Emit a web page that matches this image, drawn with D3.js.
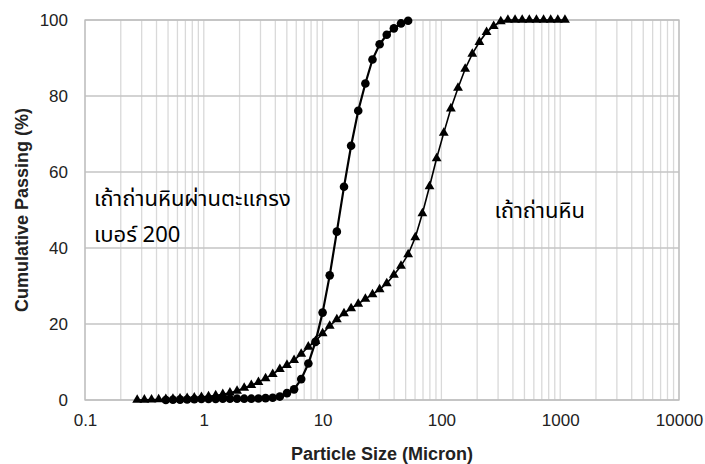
<!DOCTYPE html>
<html>
<head>
<meta charset="utf-8">
<title>Particle size distribution</title>
<script src="https://d3js.org/d3.v7.min.js"></script>
<style>
  body { margin: 0; background: #fff; }
  .tick text { font-family: "Liberation Sans", Arial, sans-serif; font-size: 17px; fill: #222; }
  .title { font-family: "Liberation Sans", Arial, sans-serif; font-size: 18px; font-weight: bold; fill: #222; }
  .note { font-family: "Noto Sans Thai", "Tahoma", "Loma", "Garuda", sans-serif; font-size: 22px; fill: #000; }
</style>
</head>
<body>
<svg width="705" height="464"></svg>
<script>
// particle sizes (micron), shared by both series
var sizes = [0.275, 0.316, 0.363, 0.417, 0.479, 0.550, 0.631, 0.724, 0.832, 0.955,
  1.096, 1.259, 1.445, 1.660, 1.905, 2.188, 2.512, 2.884, 3.311, 3.802,
  4.365, 5.012, 5.754, 6.607, 7.586, 8.710, 10.00, 11.48, 13.18, 15.14,
  17.38, 19.95, 22.91, 26.30, 30.20, 34.67, 39.81, 45.71, 52.48, 60.26,
  69.18, 79.43, 91.20, 104.7, 120.2, 138.0, 158.5, 182.0, 208.9, 239.9,
  275.4, 316.2, 363.1, 416.9, 478.6, 549.5, 631.0, 724.4, 831.8, 955.0, 1096.5];

// fly ash passing sieve no.200 (circles), starts at 0.479 micron, ends at 52.48
var fineStart = 4;
var fineVals = [0.0, 0.05, 0.1, 0.15, 0.2, 0.25, 0.3, 0.3, 0.35, 0.35,
  0.35, 0.35, 0.35, 0.4, 0.5, 0.6, 0.9, 1.8, 2.8, 5.5,
  9.6, 15.3, 23.0, 32.8, 44.3, 56.1, 66.9, 76.1, 83.3, 89.6,
  93.6, 96.1, 97.8, 99.1, 99.8];

// fly ash (triangles), full size range
var ashVals = [0.0, 0.05, 0.1, 0.15, 0.2, 0.3, 0.35, 0.45, 0.6, 0.75,
  0.95, 1.2, 1.5, 1.9, 2.4, 3.2, 3.9, 4.7, 5.7, 6.8,
  8.1, 9.2, 10.5, 12.1, 14.0, 15.5, 17.5, 19.5, 21.2, 22.8,
  24.1, 25.3, 26.6, 27.8, 29.1, 30.7, 32.9, 35.3, 38.3, 42.8,
  49.1, 56.2, 63.6, 70.3, 76.7, 82.1, 87.1, 91.1, 94.2, 96.8,
  98.4, 99.6, 100, 100, 100, 100, 100, 100, 100, 100, 100];

var xTicks = [0.1, 1, 10, 100, 1000, 10000];
var yTicks = [0, 20, 40, 60, 80, 100];
var xLabel = "Particle Size (Micron)";
var yLabel = "Cumulative Passing (%)";
var fineNote = ["เถ้าถ่านหินผ่านตะแกรง", "เบอร์ 200"];
var ashNote = "เถ้าถ่านหิน";

var svg = d3.select("svg");
var margin = {left: 85, right: 26, top: 20, bottom: 64};
var width = 705 - margin.left - margin.right,
    height = 464 - margin.top - margin.bottom;

var x = d3.scaleLog().domain([0.1, 10000]).range([0, width]);
var y = d3.scaleLinear().domain([0, 100]).range([height, 0]);

var g = svg.append("g").attr("transform", "translate(" + margin.left + "," + margin.top + ")");

// minor + major vertical grid
var vlines = [];
for (var dec = 0.1; dec < 10000; dec *= 10) {
  for (var k = 1; k < 10; k++) vlines.push(+(dec * k).toPrecision(3));
}
vlines.push(10000);
g.append("g").selectAll("line").data(vlines).enter().append("line")
  .attr("x1", function(d) { return x(d); }).attr("x2", function(d) { return x(d); })
  .attr("y1", 0).attr("y2", height)
  .attr("stroke", "#d9d9d9").attr("stroke-width", 1.3);

g.append("g").selectAll("line").data(yTicks).enter().append("line")
  .attr("x1", 0).attr("x2", width)
  .attr("y1", function(d) { return y(d); }).attr("y2", function(d) { return y(d); })
  .attr("stroke", "#c4c4c4").attr("stroke-width", 1.3);

g.append("rect").attr("width", width).attr("height", height)
  .attr("fill", "none").attr("stroke", "#bdbdbd").attr("stroke-width", 1.3);

// axes
var xAxis = g.append("g").attr("transform", "translate(0," + height + ")")
  .call(d3.axisBottom(x).tickValues(xTicks).tickFormat(function(d) { return String(d); }).tickSize(0).tickPadding(14));
xAxis.select(".domain").remove();

var yAxis = g.append("g")
  .call(d3.axisLeft(y).tickValues(yTicks).tickSize(0).tickPadding(17));
yAxis.select(".domain").remove();

svg.append("text").attr("class", "title")
  .attr("x", margin.left + width / 2).attr("y", 460)
  .attr("text-anchor", "middle").text(xLabel);

svg.append("text").attr("class", "title")
  .attr("transform", "translate(28," + (margin.top + height / 2) + ") rotate(-90)")
  .attr("text-anchor", "middle").text(yLabel);

// series
var fine = fineVals.map(function(v, i) { return {s: sizes[i + fineStart], v: v}; });
var ash = ashVals.map(function(v, i) { return {s: sizes[i], v: v}; });

var line = d3.line().x(function(d) { return x(d.s); }).y(function(d) { return y(d.v); });

g.append("path").datum(ash).attr("d", line)
  .attr("fill", "none").attr("stroke", "#000").attr("stroke-width", 1.6);
g.append("path").datum(fine).attr("d", line)
  .attr("fill", "none").attr("stroke", "#000").attr("stroke-width", 2.2);

var tri = d3.symbol().type(d3.symbolTriangle).size(42);
g.append("g").selectAll("path").data(ash).enter().append("path")
  .attr("d", tri)
  .attr("transform", function(d) { return "translate(" + x(d.s) + "," + y(d.v) + ")"; })
  .attr("fill", "#000");

g.append("g").selectAll("circle").data(fine).enter().append("circle")
  .attr("cx", function(d) { return x(d.s); })
  .attr("cy", function(d) { return y(d.v); })
  .attr("r", 4.3).attr("fill", "#000");

// annotations
var n1 = g.append("text").attr("class", "note")
  .attr("x", x(0.119)).attr("y", y(51));
n1.append("tspan").text(fineNote[0]);
n1.append("tspan").attr("x", x(0.119)).attr("dy", 36).text(fineNote[1]);

g.append("text").attr("class", "note")
  .attr("x", x(280)).attr("y", y(47.8)).text(ashNote);
</script>
</body>
</html>
